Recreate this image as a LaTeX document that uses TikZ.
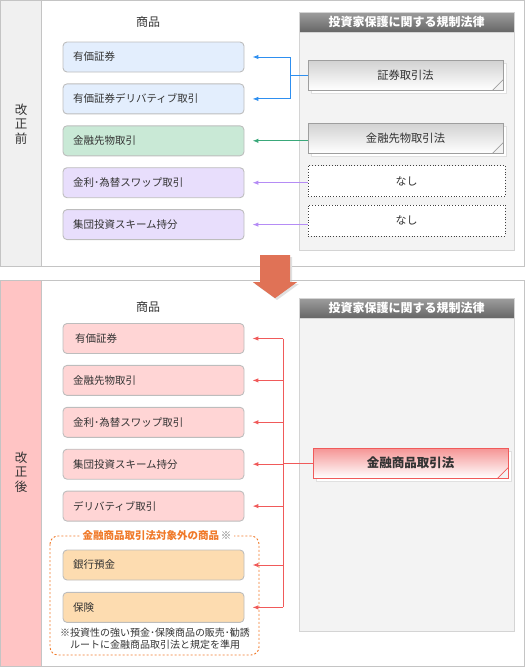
\documentclass[tikz,border=0pt]{standalone}
\usepackage{fontspec}
\setmainfont{Noto Sans CJK JP}
\usepackage{xcolor}
\usetikzlibrary{arrows.meta,positioning,shadows}

\definecolor{frameg}{HTML}{C4C4C4}
\definecolor{colgray}{HTML}{F0F0F0}
\definecolor{colpink}{HTML}{FFC4C4}
\definecolor{panelg}{HTML}{F3F3F3}
\definecolor{paneledge}{HTML}{D4D4D4}
\definecolor{boxedge}{HTML}{BDBDBD}
\definecolor{txt}{HTML}{333333}
\definecolor{fblue}{HTML}{E3EEFD}
\definecolor{fgreen}{HTML}{C9E9D6}
\definecolor{fpurple}{HTML}{E8DEFC}
\definecolor{fpink}{HTML}{FFD5D5}
\definecolor{fpeach}{HTML}{FDDCB0}
\definecolor{lblue}{HTML}{2E8FF0}
\definecolor{lgreen}{HTML}{3AA87A}
\definecolor{lpurple}{HTML}{B58CF5}
\definecolor{lred}{HTML}{F05A5A}
\definecolor{bigarrow}{HTML}{E07256}
\definecolor{ortext}{HTML}{F07A2A}

\begin{document}
\begin{tikzpicture}[x=1pt,y=-1pt,
  node distance=11pt and 8pt,
  prod/.style={rectangle,rounded corners=4pt,draw=boxedge,line width=0.9pt,
               minimum width=181pt,minimum height=30pt,text width=161pt,inner xsep=10pt,
               align=left,font=\fontsize{10.5}{12}\selectfont,text=txt},
  law/.style={rectangle,draw=black!38,line width=0.9pt,minimum width=195pt,minimum height=30pt,
              top color=black!18,middle color=white,bottom color=white,
              font=\fontsize{11.3}{13}\selectfont,text=txt,
              copy shadow={shadow xshift=3pt,shadow yshift=-3pt,draw=black!12,fill=white}},
  nolaw/.style={rectangle,draw=black!75,dotted,line width=0.8pt,fill=white,minimum width=197pt,
                minimum height=31pt,font=\fontsize{11}{13}\selectfont,text=txt},
  hdr/.style={rectangle,draw=paneledge,top color=black!38,bottom color=black!60,minimum width=215pt,
              minimum height=20pt,text=white,font=\bfseries\fontsize{12}{14}\selectfont},
  panel/.style={draw=paneledge,line width=0.9pt,fill=panelg},
  title/.style={font=\fontsize{12}{14}\selectfont,text=txt},
  side/.style={align=center,font=\fontsize{12.5}{14.5}\selectfont,text=txt},
  arr/.style={-{Latex[length=6pt,width=4.5pt]},line width=1pt},
  fold/.style={fill=panelg,draw=black!38,line width=0.8pt},
]
\useasboundingbox (0,0) rectangle (525,667);

%% ─── BEFORE the revision ─────────────────────────────────────────────────────
\fill[colgray] (0.5,0.5) rectangle (41,266);
\draw[frameg,line width=1pt] (0.5,0.5) rectangle (524,266);
\draw[frameg,line width=1pt] (41,0.5) -- (41,266);
\node[side] (before) at (21,124) {改\\正\\前};
\node[title] (goods1) at (148,22) {商品};

\draw[panel] (299,12) rectangle (514,250);
\node[hdr] (hd1) at (406.5,22) {投資家保護に関する規制法律};

\node[prod,fill=fblue]   (p1) at (153.5,57) {有価証券};
\node[prod,fill=fblue,   below=of p1] (p2) {有価証券デリバティブ取引};
\node[prod,fill=fgreen,  below=of p2] (p3) {金融先物取引};
\node[prod,fill=fpurple, below=of p3] (p4) {金利･為替スワップ取引};
\node[prod,fill=fpurple, below=of p4] (p5) {集団投資スキーム持分};

\node[law]   (sec) at (405.5,75)  {証券取引法};
\node[law]   (fut) at (405.5,138) {金融先物取引法};
\node[nolaw] (no1) at (406.5,181) {なし};
\node[nolaw] (no2) at (406.5,220.5) {なし};
\foreach \n in {sec,fut}
  \path[fold] (\n.south east) ++(0,-11) -- ++(-11,11) -- (\n.south east) -- cycle;

\coordinate (bj) at (290,75);
\draw[lblue,line width=1pt] (sec.west) -- (bj);
\draw[arr,lblue] (bj) |- ([xshift=8pt]p1.east);
\draw[arr,lblue] (bj) |- ([xshift=8pt]p2.east);
\draw[arr,lgreen]  (p3.east -| fut.west) -- ([xshift=8pt]p3.east);
\draw[arr,lpurple] (p4.east -| no1.west) -- ([xshift=8pt]p4.east);
\draw[arr,lpurple] (p5.east -| no2.west) -- ([xshift=8pt]p5.east);

%% ─── big arrow ───────────────────────────────────────────────────────────────
\fill[black!12] (262,257) -- (292,257) -- (292,284) -- (299,284) -- (277,300) -- (255,284) -- (262,284) -- cycle;
\fill[bigarrow] (260,255) -- (290,255) -- (290,282) -- (297,282) -- (275,298) -- (253,282) -- (260,282) -- cycle;

%% ─── AFTER the revision ──────────────────────────────────────────────────────
\fill[colpink] (0.5,280) rectangle (41,666);
\draw[frameg,line width=1pt] (0.5,280) rectangle (524,666);
\draw[frameg,line width=1pt] (41,280) -- (41,666);
\fill[bigarrow] (260,279) rectangle (290,283);
\fill[bigarrow] (253,282) -- (297,282) -- (275,298) -- cycle;
\node[side] (after) at (21,472) {改\\正\\後};
\node[title] (goods2) at (148,307) {商品};

\draw[panel] (299,298) rectangle (514,631);
\node[hdr] (hd2) at (406.5,308) {投資家保護に関する規制法律};

\node[prod,fill=fpink] (q1) at (153.5,338.5) {\hspace{2pt}有価証券};
\node[prod,fill=fpink, below=of q1] (q2) {金融先物取引};
\node[prod,fill=fpink, below=of q2] (q3) {金利･為替スワップ取引};
\node[prod,fill=fpink, below=of q3] (q4) {集団投資スキーム持分};
\node[prod,fill=fpink, below=of q4] (q5) {デリバティブ取引};

\draw[ortext,dashed,dash pattern=on 2pt off 2pt,line width=0.9pt,rounded corners=8pt]
  (50,536) rectangle (259,655);
\node[fill=white,inner xsep=3pt,inner ysep=1pt,font=\bfseries\fontsize{10.5}{12}\selectfont]
  (extitle) at (157,536) {\textcolor{ortext}{金融商品取引法対象外の商品}\,\textcolor{black!55}{※}};
\node[prod,fill=fpeach] (q6) at (153.5,565) {銀行預金};
\node[prod,fill=fpeach, below=11.5pt of q6] (q7) {保険};
\node[align=center,font=\fontsize{10}{12}\selectfont,text=txt] (note) at (155,639)
  {※投資性の強い預金･保険商品の販売･勧誘\\ルートに金融商品取引法と規定を準用};

\node[law,draw=lred,top color=lred!65,middle color=lred!15,bottom color=white,
      font=\bfseries\fontsize{12.5}{14}\selectfont]
  (fin) at (410.5,463) {金融商品取引法};
\path[fold,draw=lred] (fin.south east) ++(0,-11) -- ++(-11,11) -- (fin.south east) -- cycle;

\coordinate (sp) at (283,338.5);
\draw[lred,line width=1pt] (sp |- q1) -- (sp |- q7);
\draw[lred,line width=1pt] (fin.west) -- (fin.west -| sp);
\foreach \q in {q1,q2,q3,q4,q5,q6,q7}
  \draw[arr,lred] (sp |- \q) -- ([xshift=8pt]\q.east);

\end{tikzpicture}
\end{document}
